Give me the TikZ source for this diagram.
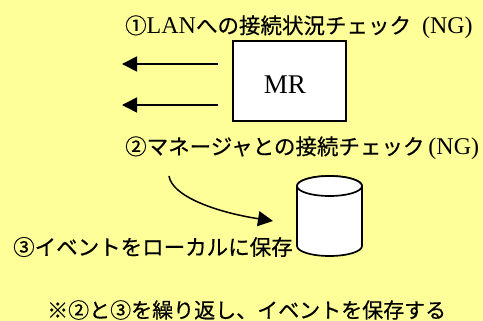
\documentclass[tikz,border=0pt]{standalone}
\usepackage{fontspec}
\setmainfont{Liberation Serif}
\newfontfamily\cjk[RawFeature={embolden=0.5}]{Noto Sans CJK JP}
\usetikzlibrary{arrows.meta}
\definecolor{bgyellow}{RGB}{255,255,153}
\newcommand{\ltn}[1]{{\fontsize{24}{24}\selectfont #1}}
\tikzset{
  lbl/.style={inner sep=0pt,font=\fontsize{21.5}{24}\selectfont,anchor=west},
  arrowline/.style={line width=1.5pt,-{Triangle[length=15pt,width=15pt]}},
  whitebox/.style={draw=black,line width=1.7pt,fill=white}
}
\begin{document}
\begin{tikzpicture}[x=1pt,y=-1pt]
\fill[bgyellow] (0,0) rectangle (483,321);
\useasboundingbox (0,0) rectangle (483,321);
\node[lbl] (t1) at (125,27) {{\cjk ①}\ltn{LAN}{\cjk への接続状況チェック}\hspace*{11pt}\ltn{(NG)}};
\node[whitebox,minimum width=113pt,minimum height=80pt,inner sep=0pt] (mr) at (289.5,81) {};
\node[inner sep=0pt,font=\fontsize{27}{28}\selectfont] (mrl) at (285,85) {MR};
\coordinate (a1s) at (218,64);
\coordinate (a1e) at (122,64);
\coordinate (a2s) at (218,105);
\coordinate (a2e) at (122,105);
\draw[arrowline] (a1s) -- (a1e);
\draw[arrowline] (a2s) -- (a2e);
\node[lbl] (t2) at (125,148) {{\cjk ②マネージャとの接続チェック}\hspace*{4pt}\ltn{(NG)}};
\coordinate (cs) at (169,176);
\coordinate (ce) at (273,221);
\draw[arrowline] (cs) .. controls (172,196) and (215,212) .. (ce);
\path[whitebox] (297,186) -- (297,246) arc[start angle=180,end angle=0,x radius=32.5,y radius=10] -- (362,186) arc[start angle=0,end angle=-180,x radius=32.5,y radius=10] -- cycle;
\draw[whitebox] (329.5,186) ellipse[x radius=32.5,y radius=10];
\node[lbl,font=\cjk\fontsize{21.5}{24}\selectfont] (t3) at (13,247) {③イベントをローカルに保存};
\node[lbl,font=\cjk\fontsize{21}{24}\selectfont] (t4) at (47,310) {※②と③を繰り返し、イベントを保存する};
\end{tikzpicture}
\end{document}
